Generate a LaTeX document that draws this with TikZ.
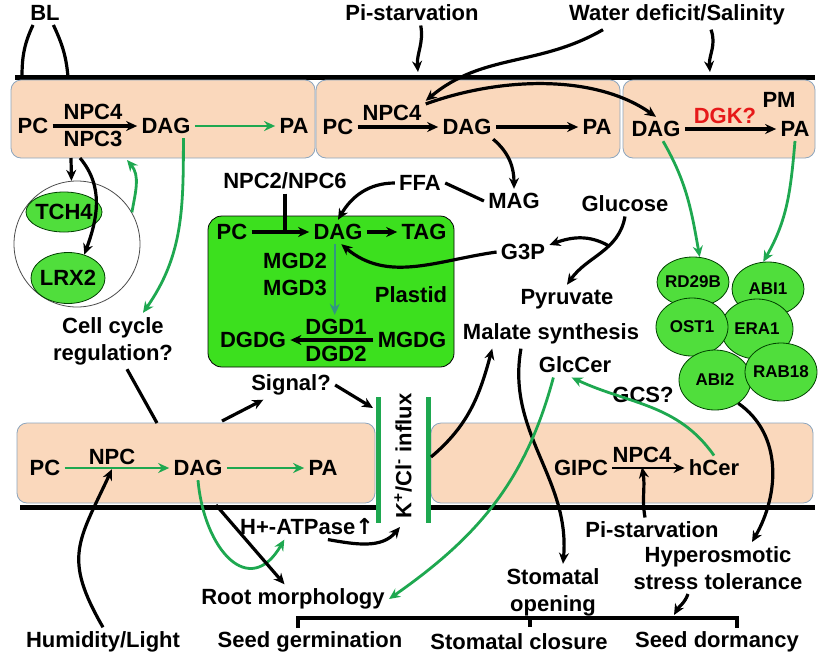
\documentclass[tikz,border=0pt]{standalone}
\usepackage{fontspec}
\setmainfont{Liberation Sans}
\newfontfamily\arrowfont{DejaVu Sans}
\usetikzlibrary{arrows.meta,shapes.geometric,positioning}

\definecolor{peach}{RGB}{250,216,188}
\definecolor{boxedge}{RGB}{140,165,190}
\definecolor{plastidgreen}{RGB}{60,224,30}
\definecolor{protgreen}{RGB}{80,222,60}
\definecolor{arrowgreen}{RGB}{30,168,80}
\definecolor{mgdteal}{RGB}{50,150,130}
\definecolor{dgkred}{RGB}{230,25,25}

\tikzset {
    style txt/.style={
        font=\fontsize{11}{13.5}\selectfont\bfseries,
        inner sep=2pt,
        align=center,
    },
    style box/.style={
        fill=peach,
        draw=boxedge,
        thin,
        rounded corners=5pt,
    },
    style plastid/.style={
        fill=plastidgreen,
        rounded corners=7pt,
    },
    style prot/.style={
        ellipse, % needs shapes.geometric
        fill=protgreen,
        draw=green!25!black,
        inner sep=0pt,
        inner xsep=-2pt,
        minimum width=36pt,
        minimum height=29pt,
        font=\fontsize{8.5}{10}\selectfont\bfseries,
    },
    style memb/.style={line width=2.5pt},
    style chan/.style={line width=2.5pt, draw=arrowgreen},
    style line/.style={line width=1.6pt},
    style blk/.style={->, line width=1.6pt},
    style grn/.style={->, line width=1.4pt, draw=arrowgreen},
}

\begin{document}
\begin{tikzpicture}[x=0.5pt, y=-0.5pt, >={Stealth[length=5.5pt,width=5pt]}]
    \useasboundingbox (0,0) rectangle (819,654);

    % membranes, compartments, channel
    \draw[style memb] (15,77) -- (815,77);
    \draw[style box] (11,80) rectangle (315,158);
    \draw[style box] (316,80) rectangle (620,158);
    \draw[style box] (623,80) rectangle (815,158);
    \draw[style box] (17,423) rectangle (375,503);
    \draw[style box] (431,423) rectangle (813,503);
    \draw[style memb] (20,507) -- (377,507);
    \draw[style memb] (430,507) -- (815,507);
    \draw[style plastid] (208,216) rectangle (454,367);
    \draw[style chan] (378,397) -- (378,523);
    \draw[style chan] (428,397) -- (428,523);

    \coordinate (bl1) at (22,77);
    \coordinate (bl2) at (68,77);
    \coordinate (pm1) at (418,72);
    \coordinate (pm2) at (710,72);
    \coordinate (chl) at (373,408);
    \coordinate (chr) at (431,457);
    \coordinate (chb) at (400,527);
    \coordinate (box1b) at (71,158);
    \coordinate (box1c) at (80,158);
    \coordinate (box1g) at (127,160);
    \coordinate (boxlc) at (157,423);
    \coordinate (boxls) at (222,421);
    \coordinate (boxlr) at (216,505);
    \coordinate (brk) at (674,615);

    % stimuli above the membrane
    \node[style txt] (bl) at (45,13) {BL};
    \node[style txt] (pis1) at (412,13) {Pi-starvation};
    \node[style txt] (wds) at (677,15) {Water deficit/Salinity};

    % plasma membrane, top
    \node[style txt] (pc1) at (33,126) {PC};
    \node[style txt] (npc4a) at (93,112) {NPC4};
    \node[style txt] (npc3a) at (93,139) {NPC3};
    \node[style txt] (dag1) at (166,126) {DAG};
    \node[style txt] (pa1) at (294,126) {PA};
    \node[style txt] (pc2) at (338,127) {PC};
    \node[style txt] (npc4b) at (392,113) {NPC4};
    \node[style txt] (dag2) at (467,127) {DAG};
    \node[style txt] (pa2) at (597,127) {PA};
    \node[style txt] (dag3) at (656,129) {DAG};
    \node[style txt, text=dgkred] (dgk) at (725,116) {DGK?};
    \node[style txt] (pa3) at (795,129) {PA};
    \node[style txt] (pm) at (779,100) {PM};

    \draw[style blk] (pc1) -- (dag1);
    \draw[style grn] (dag1) -- (pa1);
    \draw[style blk] (pc2) -- (dag2);
    \draw[style blk] (dag2) -- (pa2);
    \draw[style blk] (dag3) -- (pa3);

    \draw[style line] (bl.-135) to[out=-115,in=90] (bl1);
    \draw[style line] (bl.-55) to[out=-65,in=95] (bl2);
    \draw[style blk] (pis1.-55) to[out=-80,in=95] (pm1);
    \draw[style blk] ([xshift=-37pt]wds.south) to[out=-150,in=40] (npc4b.north east);
    \draw[style blk] ([xshift=17pt]wds.south) to[out=-70,in=95] (pm2);
    \draw[style blk] (npc4b.15) to[out=20,in=145,looseness=0.85] (dag3.north);

    % TCH4 / LRX2
    \node[draw=black!70, thin, circle, minimum size=63pt] (grp) at (77,244) {};
    \node[style prot, font=\fontsize{11}{13}\selectfont\bfseries, minimum width=38pt, minimum height=20pt] (tch4) at (64,212) {TCH4};
    \node[style prot, font=\fontsize{11}{13}\selectfont\bfseries, minimum width=37pt, minimum height=25.5pt] (lrx2) at (68,278) {LRX2};
    \node[style txt] (cc) at (113,341) {Cell cycle\\regulation?};

    \draw[style blk] (box1b) -- (grp.95);
    \draw[style blk] (box1c) to[out=-50,in=70] (lrx2.55);
    \draw[style grn] (grp.30) to[out=80,in=-50] (box1g);
    \draw[style grn] (dag1.-35) to[out=-90,in=55] ([xshift=15pt]cc.north);
    \draw[style line] ([xshift=7pt]cc.south) -- (boxlc);

    % plastid
    \node[style txt] (npc26) at (285,181) {NPC2/NPC6};
    \node[style txt] (ffa) at (420,183) {FFA};
    \node[style txt] (mag) at (514,201) {MAG};
    \node[style txt] (pc4) at (232,232) {PC};
    \node[style txt] (dag4) at (338,232) {DAG};
    \node[style txt] (tag4) at (424,232) {TAG};
    \node[style txt] (mgd) at (295,274) {MGD2\\MGD3};
    \node[style txt] (plst) at (411,295) {Plastid};
    \node[style txt] (dgdg) at (253,340) {DGDG};
    \node[style txt] (dgd1) at (336,327) {DGD1};
    \node[style txt] (dgd2) at (336,354) {DGD2};
    \node[style txt] (mgdg) at (412,340) {MGDG};

    \draw[style blk] (dag2.-25) to[out=-40,in=90] (mag.north);
    \draw[style line] (ffa.east) -- (mag.west);
    \draw[style blk] (ffa.west) to[out=180,in=60] (dag4.north);
    \draw[style blk] (pc4) -- (dag4);
    \draw[style line] (npc26.south) -- (npc26.south |- pc4);
    \draw[style blk] (dag4) -- (tag4);
    \draw[->, line width=1.1pt, draw=mgdteal] (dag4.-105) -- (dag4.-105 |- dgd1.north);
    \draw[style blk] (mgdg) -- (dgdg);

    % sugars
    \node[style txt] (g3p) at (523,252) {G3P};
    \node[style txt] (glc) at (625,204) {Glucose};
    \node[style txt] (pyr) at (567,299) {Pyruvate};
    \node[style txt] (mal) at (551,334) {Malate synthesis};
    \node[style txt] (glccer) at (575,365) {GlcCer};
    \node[style txt] (gcs) at (643,395) {GCS?};

    \draw[style blk] (g3p.west) to[out=188,in=-40] (dag4.-75);
    \draw[style blk] (glc.south) to[out=-100,in=55] coordinate[pos=0.38] (gbr) (pyr.north);
    \draw[style blk] (gbr) to[out=150,in=20] (g3p.15);

    % ABA related proteins
    \node[style prot, minimum height=25pt] (rd29b) at (693,282) {RD29B};
    \node[style prot, minimum height=27pt] (abi1) at (768,289) {ABI1};
    \node[style prot, minimum height=30pt] (era1) at (757,329) {ERA1};
    \node[style prot] (ost1) at (692,327) {OST1};
    \node[style prot, minimum height=30pt] (abi2) at (715,380) {ABI2};
    \node[style prot] (rab18) at (781,372) {RAB18};
    \node[style txt] (hyp) at (718,568) {Hyperosmotic\\stress tolerance};

    \draw[style grn] (dag3.-60) to[out=-60,in=100] (rd29b.75);
    \draw[style grn] (pa3.south) to[out=-95,in=60] (abi1.100);
    \draw[style blk] (abi2.-45) to[out=-35,in=60] ([xshift=17pt]hyp.north);
    \draw[style blk] ([xshift=-15pt]hyp.south) to[out=-110,in=60] (brk);

    % responses
    \node[style txt] (root) at (293,599) {Root morphology};
    \node[style txt] (stomo) at (553,592) {Stomatal\\opening};
    \node[style txt] (hum) at (103,642) {Humidity/Light};
    \node[style txt] (seedg) at (310,642) {Seed germination};
    \node[style txt] (stomc) at (519,642) {Stomatal closure};
    \node[style txt] (seedd) at (717,642) {Seed dormancy};
    \draw[style line] (298,628) -- (298,618) -- (737,618) -- (737,628);
    \draw[style line] (530,618) -- (530,627);

    % plasma membrane, bottom
    \node[style txt] (pc5) at (45,468) {PC};
    \node[style txt] (npc5) at (112,457) {NPC};
    \node[style txt] (dag5) at (198,468) {DAG};
    \node[style txt] (pa5) at (323,468) {PA};
    \node[style txt] (sig) at (291,385) {Signal?};
    \node[style txt] (hatp) at (307,527) {H+-ATPase{\arrowfont\bfseries ↑}};
    \node[style txt, rotate=90] (kcl) at (403,456) {K\textsuperscript{+}/Cl\textsuperscript{-} influx};
    \node[style txt] (gipc) at (581,468) {GIPC};
    \node[style txt] (npc4c) at (642,455) {NPC4};
    \node[style txt] (hcer) at (714,468) {hCer};
    \node[style txt] (pis2) at (652,530) {Pi-starvation};

    \draw[style grn] (pc5) -- (dag5);
    \draw[style grn] (dag5) -- (pa5);
    \draw[->, line width=1.1pt] (gipc) -- (hcer);
    \draw[style blk] ([xshift=-3.5pt]pis2.north) to[out=100,in=-80] (npc4c.south);
    \draw[style blk] (boxls) -- (sig.-152);
    \draw[style blk] (sig.east) -- (chl);
    \draw[style blk] (chr) to[out=40,in=-105] (mal.-166);
    \draw[style blk] (mal.-154) to[out=-100,in=85] ([xshift=5pt]stomo.north);
    \draw[style grn] (hcer.north) to[out=125,in=-25] (glccer.-105);
    \draw[style grn] (glccer.-150) to[out=-105,in=35] (root.east);

    \draw[style blk] (hum.north) to[out=120,in=-115,looseness=1.3] (npc5.south);
    \draw[style grn] (dag5.south) to[out=-85,in=-120,looseness=1.7] (hatp.-151);
    \draw[style blk] (boxlr) -- (root.120);
    \draw[style blk] (hatp.-31) to[out=-10,in=-130] (chb);
\end{tikzpicture}
\end{document}
